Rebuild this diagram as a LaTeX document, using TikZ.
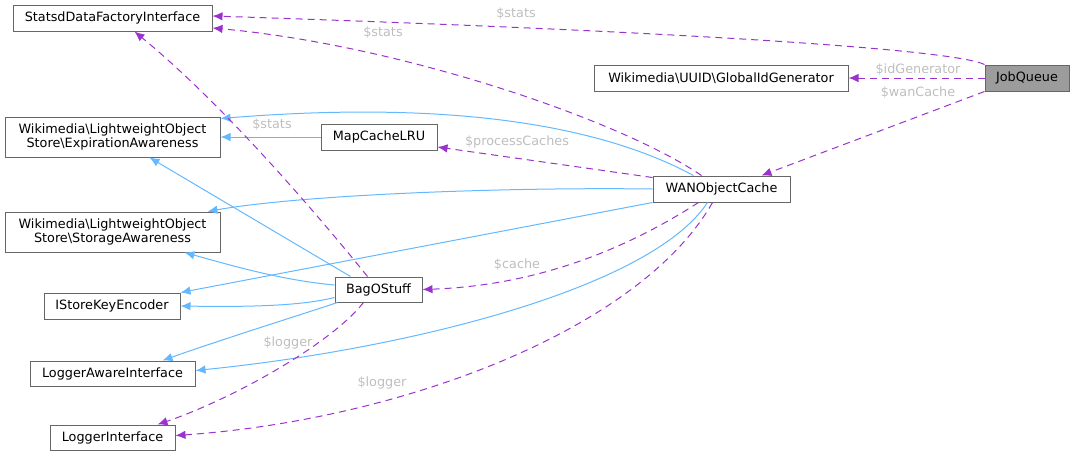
\documentclass[tikz,border=0pt]{standalone}
\usepackage{fontspec}
\setmainfont{DejaVu Sans}
\usetikzlibrary{arrows.meta}

\definecolor{usecol}{HTML}{9A32CD}
\definecolor{inhcol}{HTML}{63B8FF}
\definecolor{lblcol}{HTML}{BEBEBE}
\definecolor{boxcol}{HTML}{666666}

\tikzset{
  cls/.style={draw=boxcol, line width=1pt, fill=white, inner sep=2pt,
    font=\fontsize{12.8}{14.8}\selectfont, align=center},
  uses/.style={draw=usecol, line width=1pt, dash pattern=on 7pt off 5pt,
    -{Latex[length=10pt,width=8.5pt]}},
  inherits/.style={draw=inhcol, line width=1pt,
    -{Latex[length=10pt,width=8.5pt]}},
  lbl/.style={text=lblcol, font=\fontsize{12.8}{14.8}\selectfont, inner sep=1pt}
}

\begin{document}
\begin{tikzpicture}[x=1pt, y=-1pt]
    \useasboundingbox (0,0) rectangle (1075,456);

    % Classes
    \node[cls, minimum width=199, minimum height=26] (statsd) at (112.5,18) {StatsdDataFactoryInterface};
    \node[cls, minimum width=254, minimum height=26] (uuid) at (721,78) {Wikimedia\textbackslash UUID\textbackslash GlobalIdGenerator};
    \node[cls, fill=boxcol!65, minimum width=84, minimum height=26] (jobq) at (1027,78) {JobQueue};
    \node[cls, minimum width=215, minimum height=40] (expir) at (112.5,137)
        {Wikimedia\textbackslash LightweightObject\\Store\textbackslash ExpirationAwareness};
    \node[cls, minimum width=116, minimum height=26] (mapcache) at (379,137) {MapCacheLRU};
    \node[cls, minimum width=137, minimum height=26] (wan) at (721.5,189) {WANObjectCache};
    \node[cls, minimum width=215, minimum height=40] (storage) at (112.5,232)
        {Wikimedia\textbackslash LightweightObject\\Store\textbackslash StorageAwareness};
    \node[cls, minimum width=136, minimum height=26] (keyenc) at (112,306) {IStoreKeyEncoder};
    \node[cls, minimum width=87, minimum height=25] (bag) at (378.5,289.5) {BagOStuff};
    \node[cls, minimum width=165, minimum height=25] (loggeraware) at (112.5,373.5) {LoggerAwareInterface};
    \node[cls, minimum width=125, minimum height=25] (logger) at (112.5,437.5) {LoggerInterface};

    % Members of JobQueue
    \draw[uses] (jobq.north west) .. controls (955,50) and (700,32) .. ([yshift=2]statsd.east);
    \draw[uses] (jobq.west) -- (uuid.east);
    \draw[uses] (jobq.south west) -- ([xshift=40]wan.north);
    \node[lbl] (l1) at (516,14) {\$stats};
    \node[lbl] (l2) at (918,70) {\$idGenerator};
    \node[lbl] (l3) at (918,93) {\$wanCache};

    % Members and parents of WANObjectCache
    \draw[uses] ([xshift=-20]wan.north) .. controls (620,120) and (400,45) .. ([yshift=-10]statsd.east);
    \draw[inherits] ([xshift=-28]wan.north) .. controls (600,125) and (450,100) .. ([yshift=-2]expir.north east);
    \draw[uses] ([yshift=-2]wan.north west) -- ([yshift=-10]mapcache.east);
    \draw[inherits] (wan.west) .. controls (500,187) and (300,195) .. ([xshift=-13]storage.north east);
    \draw[inherits] (wan.south west) -- (keyenc.north east);
    \draw[uses] ([xshift=-23]wan.south) .. controls (640,240) and (550,285) .. (bag.east);
    \draw[inherits] ([xshift=-14]wan.south) .. controls (650,290) and (400,350) .. ([yshift=3]loggeraware.east);
    \draw[uses] ([xshift=-9]wan.south) .. controls (640,330) and (400,420) .. ([yshift=2]logger.east);
    \node[lbl] (l4) at (383,33) {\$stats};
    \node[lbl] (l5) at (517,142) {\$processCaches};
    \node[lbl] (l6) at (517,265) {\$cache};
    \node[lbl] (l7) at (382,383) {\$logger};

    % MapCacheLRU
    \draw[inherits] (mapcache.west) -- (expir.east);

    % Members and parents of BagOStuff
    \draw[inherits] ([xshift=-28]bag.north) -- ([xshift=37]expir.south);
    \draw[uses] ([xshift=-11]bag.north) .. controls (330,230) and (230,110) .. ([xshift=22]statsd.south);
    \draw[inherits] ([yshift=4.5]bag.west) .. controls (280,280) and (230,265) .. ([xshift=72]storage.south);
    \draw[inherits] ([yshift=-8]bag.west) .. controls (300,306) and (250,307) .. (keyenc.east);
    \draw[inherits] ([xshift=3]bag.south west) .. controls (300,315) and (220,340) .. ([xshift=50]loggeraware.north);
    \draw[uses] ([xshift=-15]bag.south) .. controls (330,345) and (230,400) .. ([xshift=45]logger.north);
    \node[lbl] (l8) at (272,125) {\$stats};
    \node[lbl] (l9) at (288,343) {\$logger};
\end{tikzpicture}
\end{document}
